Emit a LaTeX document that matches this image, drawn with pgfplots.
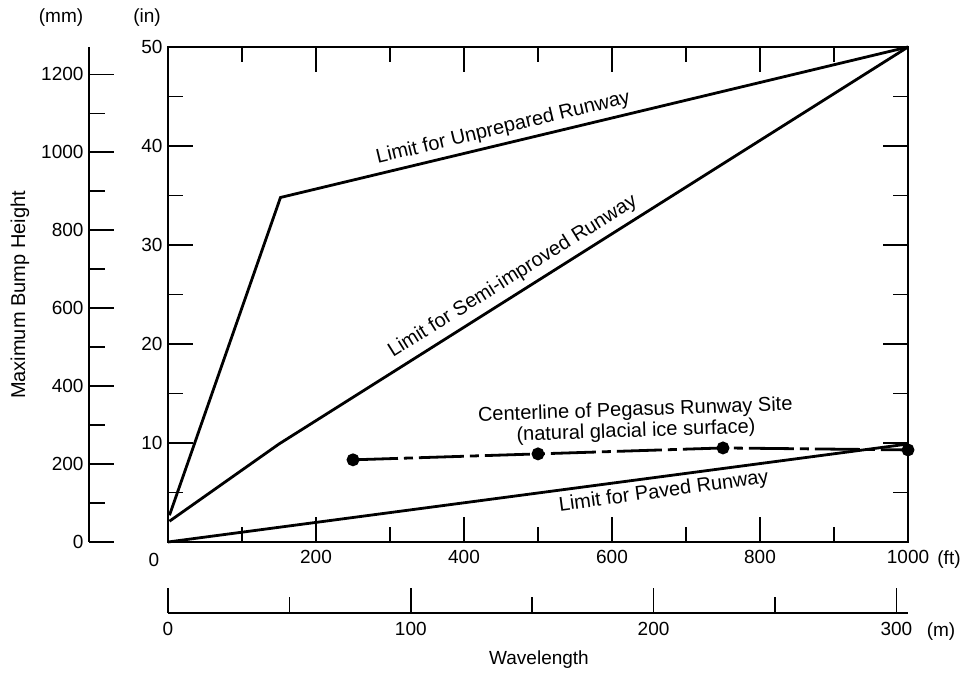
\documentclass[border=0pt]{standalone}
\usepackage{fontspec}
\setmainfont{Liberation Sans}
\usepackage{pgfplots}
\pgfplotsset{compat=1.18}
\newcommand\myfont{\fontsize{19bp}{22bp}\selectfont}
\newcommand\lblfont{\fontsize{20bp}{23bp}\selectfont}
\begin{document}
\begin{tikzpicture}[font=\myfont]
\useasboundingbox (0bp,0bp) rectangle (963bp,673bp);
% main axis (ft / in)
\begin{axis}[
  at={(168bp,131bp)}, anchor=south west,
  scale only axis, width=740bp, height=495bp,
  xmin=0, xmax=1000, ymin=0, ymax=50,
  axis line style={line width=1.5bp},
  every tick/.style={line width=1.5bp, black},
  tick align=inside,
  major tick length=25bp, minor tick length=15bp,
  xtick={0,200,...,1000}, minor xtick={100,300,...,900},
  xticklabels={,200,400,600,800,1000},
  ytick={0,10,...,50}, minor ytick={5,15,...,45},
  yticklabels={,10,20,30,40,50},
  tick label style={font=\myfont},
  xticklabel style={yshift=-5bp},
  yticklabel style={xshift=-2bp},
  clip=false,
]
\addplot[black, line width=2.8bp] coordinates {(2,2.7) (152,34.8) (1000,50)};
\addplot[black, line width=2.8bp] coordinates {(2,2.1) (150,9.9) (1000,50)};
\addplot[black, line width=2.8bp] coordinates {(0,0) (1000,9.9)};
\addplot[black, line width=2.8bp, dash pattern=on 45bp off 6bp on 9bp off 6bp,
  mark=*, mark size=5bp, mark options={solid}]
  coordinates {(250,8.3) (500,8.9) (750,9.5) (1000,9.3)};
\node[rotate=13.5, font=\lblfont] at (axis cs:453,41.8) {Limit for Unprepared Runway};
\node[rotate=32, font=\lblfont] at (axis cs:466,26.8) {Limit for Semi-improved Runway};
\node[rotate=7.6, font=\lblfont] at (axis cs:670,5.05) {Limit for Paved Runway};
\node[rotate=2, align=center, inner sep=0pt, font=\lblfont] at (axis cs:632,12.2)
  {Centerline of Pegasus Runway Site\\[-2bp](natural glacial ice surface)};
\end{axis}
% mm axis
\begin{axis}[
  at={(89bp,131bp)}, anchor=south west,
  scale only axis, width=1bp, height=495bp,
  xmin=0, xmax=1, ymin=0, ymax=1270,
  axis y line*=left, axis x line=none,
  axis line style={line width=1.5bp},
  every tick/.style={line width=1.5bp, black},
  tick align=inside,
  major tick length=25bp, minor tick length=16bp,
  ytick={0,200,...,1200}, minor ytick={100,300,...,1100},
  yticklabels={0,200,400,600,800,1000,1200},
  tick label style={font=\myfont},
  yticklabel style={xshift=-2bp},
]
\end{axis}
% m axis
\begin{axis}[
  at={(168bp,60bp)}, anchor=south west,
  scale only axis, width=740bp, height=1bp,
  xmin=0, xmax=304.8, ymin=0, ymax=1,
  axis x line*=bottom, axis y line=none,
  axis line style={line width=1.5bp},
  every tick/.style={line width=1.5bp, black},
  tick align=inside,
  major tick length=25bp, minor tick length=16bp,
  xtick={0,100,200,300}, minor xtick={50,150,250},
  xticklabels={0,100,200,300},
  tick label style={font=\myfont},
  xticklabel style={yshift=-6bp},
]
\end{axis}
\node at (154bp,113bp) {0};
\node at (949bp,113bp) {(ft)};
\node at (941bp,41bp) {(m)};
\node at (61bp,655bp) {(mm)};
\node at (147bp,655bp) {(in)};
\node[rotate=90, font=\lblfont] at (20bp,378bp) {Maximum Bump Height};
\node at (539bp,13bp) {Wavelength};
\end{tikzpicture}
\end{document}
